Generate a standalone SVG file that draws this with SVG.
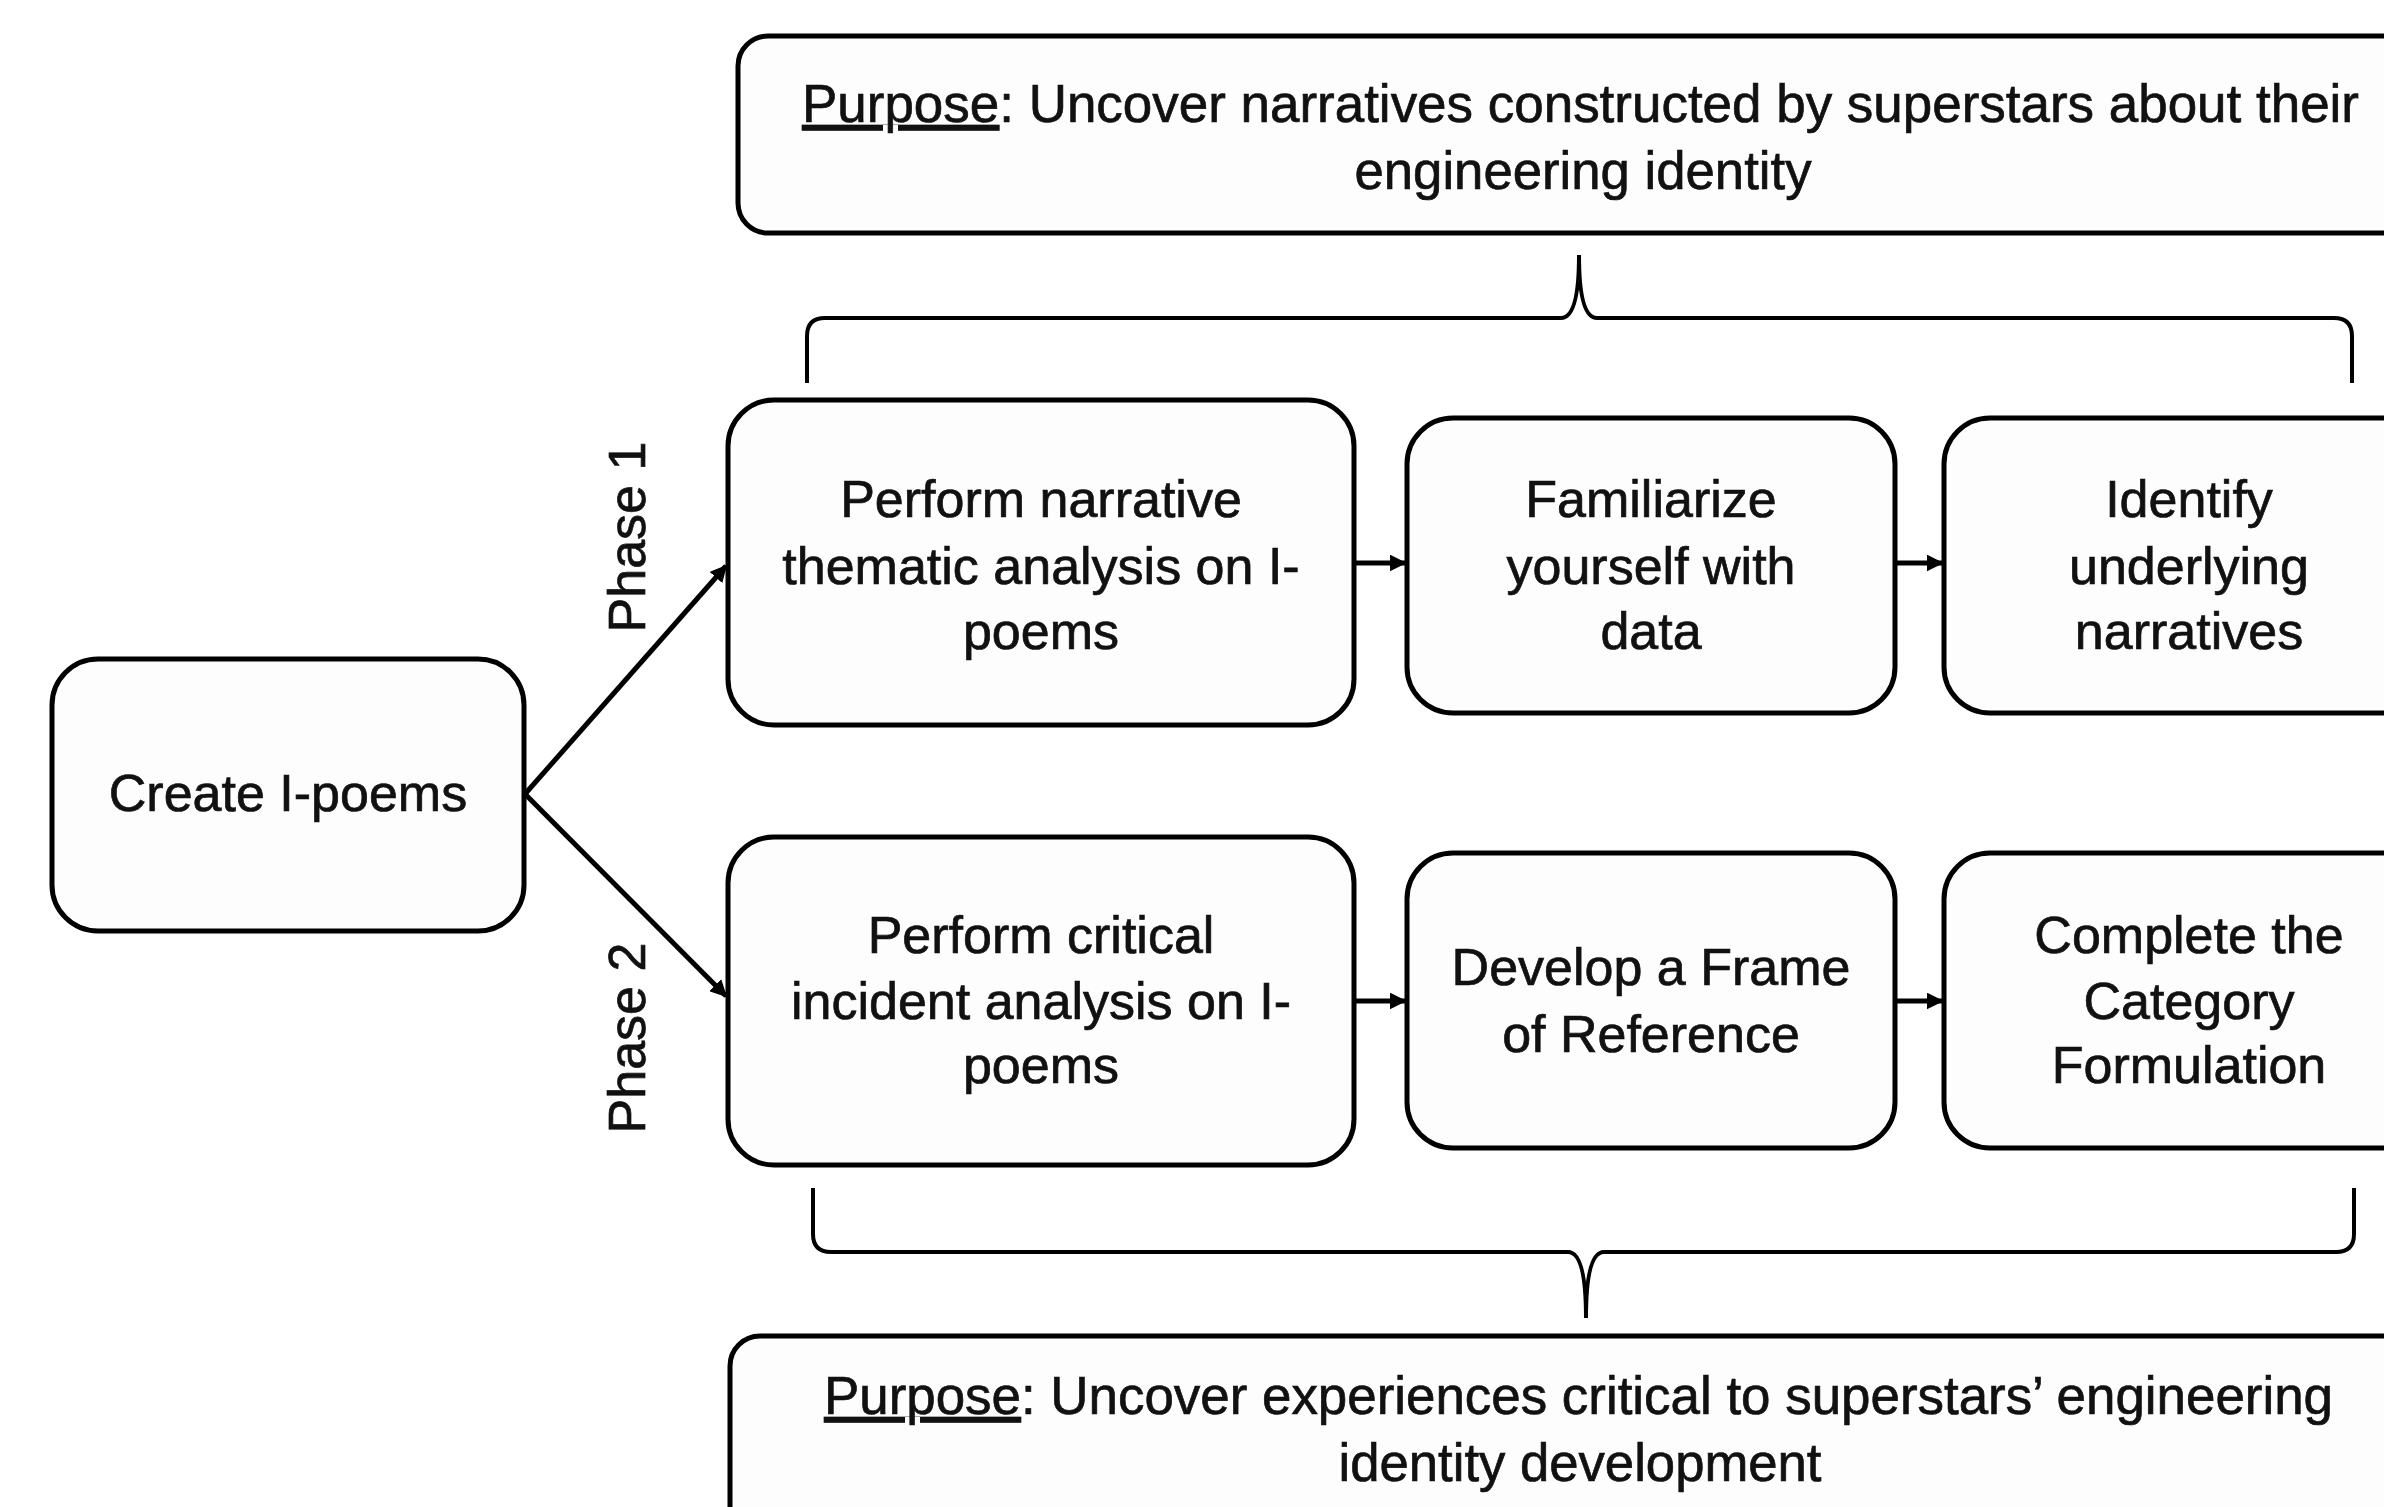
<svg xmlns="http://www.w3.org/2000/svg" width="2384" height="1507" viewBox="0 0 2384 1507">
<style>
.box{fill:#fdfdfd;stroke:#000;stroke-width:5}
.t{font-family:"Liberation Sans",Arial,sans-serif;font-size:52px;fill:#111;stroke:#111;stroke-width:0.7;text-anchor:middle}
.p{font-family:"Liberation Sans",Arial,sans-serif;font-size:54px;fill:#111;stroke:#111;stroke-width:0.7}
.c{fill:none;stroke:#000;stroke-width:5}
.br{fill:none;stroke:#000;stroke-width:4}
</style>
<defs>
<marker id="ah" viewBox="0 0 10 10" refX="9" refY="5" markerWidth="3.4" markerHeight="3.4" orient="auto" markerUnits="strokeWidth">
<path d="M0,0 L10,5 L0,10 z" fill="#000"/>
</marker>
</defs>
<rect width="2384" height="1507" fill="#fff"/>

<g id="purpose1">
<rect class="box" x="738" y="36" width="1700" height="197" rx="30"/>
<text class="p" x="802" y="122" textLength="1557" lengthAdjust="spacingAndGlyphs"><tspan text-decoration="underline">Purpose</tspan>: Uncover narratives constructed by superstars about their</text>
<text class="p" x="1583" y="189" text-anchor="middle" textLength="457" lengthAdjust="spacingAndGlyphs">engineering identity</text>
</g>

<g id="purpose2">
<rect class="box" x="730" y="1336" width="1710" height="230" rx="30"/>
<text class="p" x="824" y="1414" textLength="1509" lengthAdjust="spacingAndGlyphs"><tspan text-decoration="underline">Purpose</tspan>: Uncover experiences critical to superstars’ engineering</text>
<text class="p" x="1580" y="1481" text-anchor="middle" textLength="483" lengthAdjust="spacingAndGlyphs">identity development</text>
</g>

<g id="create">
<rect class="box" x="52" y="659" width="472" height="272" rx="46"/>
<text class="t" x="288" y="811">Create I-poems</text>
</g>

<g id="narrative">
<rect class="box" x="728" y="400" width="626" height="325" rx="46"/>
<text class="t" x="1041" y="517">Perform narrative</text>
<text class="t" x="1041" y="584">thematic analysis on I-</text>
<text class="t" x="1041" y="649">poems</text>
</g>

<g id="familiarize">
<rect class="box" x="1407" y="418" width="488" height="295" rx="46"/>
<text class="t" x="1651" y="517">Familiarize</text>
<text class="t" x="1651" y="584">yourself with</text>
<text class="t" x="1651" y="649">data</text>
</g>

<g id="identify">
<rect class="box" x="1944" y="418" width="492" height="295" rx="46"/>
<text class="t" x="2189" y="517">Identify</text>
<text class="t" x="2189" y="584">underlying</text>
<text class="t" x="2189" y="649">narratives</text>
</g>

<g id="critical">
<rect class="box" x="728" y="837" width="626" height="328" rx="46"/>
<text class="t" x="1041" y="953">Perform critical</text>
<text class="t" x="1041" y="1019">incident analysis on I-</text>
<text class="t" x="1041" y="1083">poems</text>
</g>

<g id="develop">
<rect class="box" x="1407" y="853" width="488" height="295" rx="46"/>
<text class="t" x="1651" y="985">Develop a Frame</text>
<text class="t" x="1651" y="1052">of Reference</text>
</g>

<g id="complete">
<rect class="box" x="1944" y="853" width="492" height="295" rx="46"/>
<text class="t" x="2189" y="953">Complete the</text>
<text class="t" x="2189" y="1019">Category</text>
<text class="t" x="2189" y="1083">Formulation</text>
</g>

<g id="connectors">
<line class="c" x1="525" y1="794" x2="726" y2="566" marker-end="url(#ah)"/>
<line class="c" x1="525" y1="794" x2="726" y2="996" marker-end="url(#ah)"/>
<line class="c" x1="1354" y1="563" x2="1405" y2="563" marker-end="url(#ah)"/>
<line class="c" x1="1895" y1="563" x2="1942" y2="563" marker-end="url(#ah)"/>
<line class="c" x1="1354" y1="1001" x2="1405" y2="1001" marker-end="url(#ah)"/>
<line class="c" x1="1895" y1="1001" x2="1942" y2="1001" marker-end="url(#ah)"/>
<path class="br" d="M807,383 L807,336 Q807,318 825,318 L1561,318 Q1579,318 1579,255 Q1579,318 1597,318 L2334,318 Q2352,318 2352,336 L2352,383"/>
<path class="br" d="M813,1188 L813,1234 Q813,1252 831,1252 L1568,1252 Q1586,1252 1586,1318 Q1586,1252 1604,1252 L2336,1252 Q2354,1252 2354,1234 L2354,1188"/>
<text class="t" transform="translate(645,537) rotate(-90)">Phase 1</text>
<text class="t" transform="translate(645,1038) rotate(-90)">Phase 2</text>
</g>
</svg>
